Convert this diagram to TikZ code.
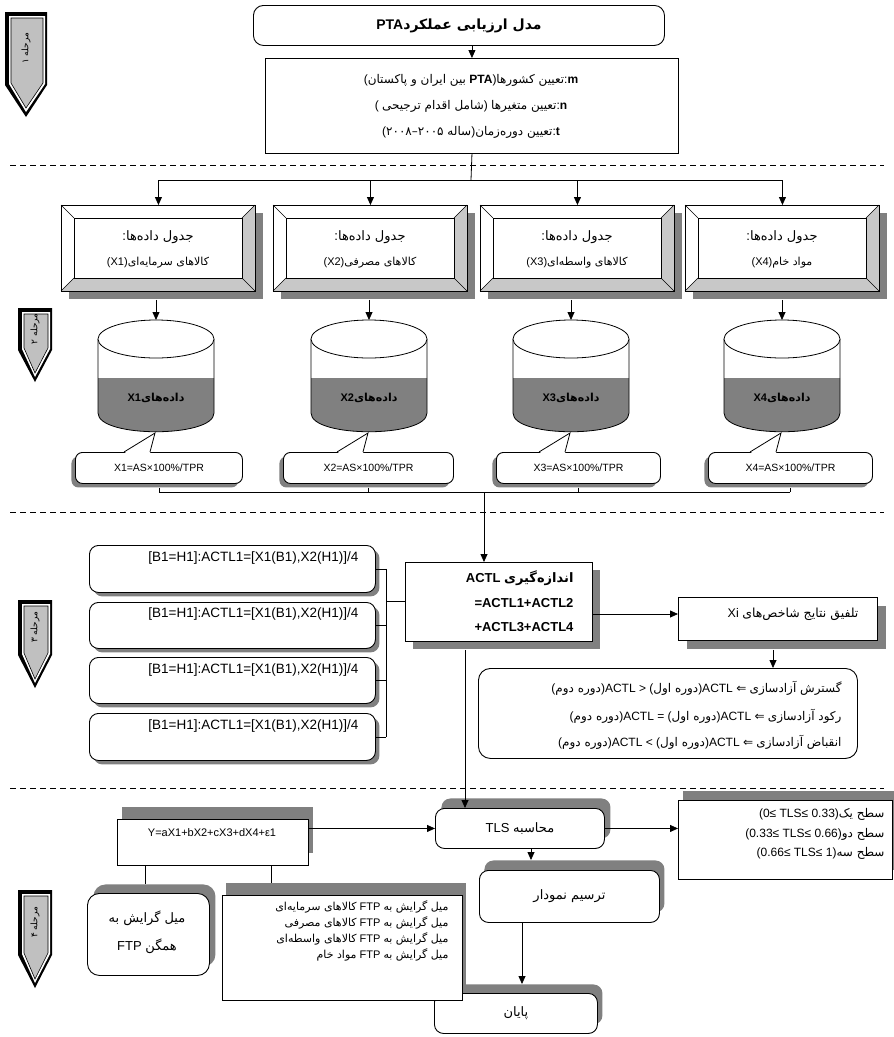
\documentclass[tikz,border=0pt]{standalone}
\usepackage{fontspec}
\setmainfont{Liberation Sans}
\newfontfamily\fa[Script=Arabic]{DejaVu Sans}
\TeXXeTstate=1
\usetikzlibrary{arrows.meta,calc,shadows}
\definecolor{shd}{HTML}{808080}
\definecolor{mk}{HTML}{C0C0C0}
\definecolor{bev}{HTML}{C8C8C8}
\newcommand\fs[1]{\fontsize{#1}{#1}\selectfont}
\newcommand\rtl[1]{{\fa\beginR #1\endR}}

\newcommand\stagemark[7]{% l t r s b text name
  \pgfmathsetmacro\mx{(#1+#3)/2}
  \fill[black] (#1,#2) -- (#3,#2) -- (#3,#4) -- (\mx,#5) -- (#1,#4) -- cycle;
  \fill[white] (#1+4,#2+4) -- (#3-2,#2+4) -- (#3-2,#4-1) -- (\mx,#5-5) -- (#1+4,#4-1) -- cycle;
  \filldraw[fill=mk,draw=black,line width=0.6pt] (#1+6,#2+6) -- (#3-4,#2+6) -- (#3-4,#4-2) -- (\mx,#5-9) -- (#1+6,#4-2) -- cycle;
  \node[rotate=90,font=\fs{9}\fa] (#7) at (\mx,{(#2+#4)/2}) {#6};
}

\newcommand\datatable[3]{% name, left x, second line
  \node[sq,shBR=8pt,minimum width=194pt,minimum height=86pt] (#1) at (#2,205) {};
  \fill[bev] (#2+194,205) -- (#2+194,291) -- (#2+181,278) -- (#2+181,218) -- cycle;
  \fill[bev] (#2,291) -- (#2+194,291) -- (#2+181,278) -- (#2+13,278) -- cycle;
  \draw[line width=0.7pt] (#2+13,218) rectangle (#2+181,278);
  \draw[line width=0.6pt] (#2,205) -- (#2+13,218) (#2+194,205) -- (#2+181,218)
        (#2,291) -- (#2+13,278) (#2+194,291) -- (#2+181,278);
  \draw[line width=0.9pt] (#1.north west) rectangle (#1.south east);
  \node[font=\fs{13}] (#1a) at (#2+97,237) {:\rtl{جدول داده‌ها}};
  \node[font=\fs{11}] (#1b) at (#2+97,263) {#3};
}

\newcommand\cyl[3]{% name, cx, label
  \fill[white] (#2-58,339) -- (#2-58,413) .. controls (#2-58,438) and (#2+58,438) .. (#2+58,413) -- (#2+58,339) -- cycle;
  \fill[shd] (#2-58,378) -- (#2-58,413) .. controls (#2-58,438) and (#2+58,438) .. (#2+58,413) -- (#2+58,378) -- cycle;
  \draw[line width=0.8pt] (#2-58,339) -- (#2-58,413) .. controls (#2-58,438) and (#2+58,438) .. (#2+58,413) -- (#2+58,339);
  \draw[line width=0.8pt,fill=white] (#2,339) ellipse [x radius=58,y radius=19];
  \coordinate (#1top) at (#2,320);
  \coordinate (#1bot) at (#2,432);
  \node[font=\fs{11}\bfseries] (#1) at (#2,398) {#3};
}

\newcommand\callout[5]{% name, left, width, text, cylinder cx
  \node[rnd,rounded corners=7pt,drop shadow={shadow xshift=-4pt,shadow yshift=-4pt,opacity=1,fill=shd},
        minimum width=#3,minimum height=31pt] (#1) at (#2,452) {};
  \fill[white] (#5-32,453.4) -- (#5-1,433) -- (#5-6,453.4) -- cycle;
  \draw[line width=0.8pt] (#5-32,452) -- (#5-1,433) -- (#5-6,452);
  \node[font=\fs{10.5}] (#1t) at (#1.center) {#4};
}

\begin{document}
\begin{tikzpicture}[x=1pt,y=-1pt,
  ln/.style={draw=black,line width=0.8pt},
  arr/.style={ln,-{Triangle[width=7pt,length=8pt]}},
  sq/.style={draw=black,line width=0.9pt,fill=white,inner sep=0pt,anchor=north west},
  rnd/.style={sq,rounded corners=9pt},
  shBR/.style={drop shadow={shadow xshift=#1,shadow yshift=-#1,opacity=1,fill=shd}},
  shUR/.style 2 args={drop shadow={shadow xshift=#1,shadow yshift=#2,opacity=1,fill=shd}},
  sep/.style={draw=black,line width=0.8pt,dash pattern=on 6pt off 4pt}]
\useasboundingbox (0,0) rectangle (894,1037);
\fill[white] (0,0) rectangle (894,1037);

% separators
\draw[sep] (10,165) -- (884,165);
\draw[sep] (10,512) -- (884,512);
\draw[sep] (10,788) -- (884,788);

% stage markers
\stagemark{5}{12}{47}{85}{117}{\beginR مرحله ۱\endR}{m1}
\stagemark{18}{308}{52}{350}{382}{\beginR مرحله ۲\endR}{m2}
\stagemark{18}{600}{52}{655}{688}{\beginR مرحله ۳\endR}{m3}
\stagemark{18}{890}{52}{955}{988}{\beginR مرحله ۴\endR}{m4}

% ---------- stage 1
\node[rnd,rounded corners=10pt,minimum width=411pt,minimum height=40pt] (title) at (253,5) {};
\node[font=\fs{14}\bfseries] (titlet) at (title.center) {PTA\rtl{مدل ارزیابی عملکرد}};
\node[sq,minimum width=413pt,minimum height=95pt] (box2) at (265,58) {};
\node[font=\fs{12}] (l1) at (471,80) {(\rtl{بین ایران و پاکستان} \textbf{PTA})\rtl{تعیین کشورها}:\textbf{m}};
\node[font=\fs{12}] (l2) at (471,106) {( \rtl{شامل اقدام ترجیحی}) \rtl{تعیین متغیرها}:\textbf{n}};
\node[font=\fs{12}] (l3) at (471,132) {(\rtl{ساله ۲۰۰۵–۲۰۰۸})\rtl{تعیین دوره‌زمان}:\textbf{t}};
\draw[arr] (title.south -| box2.north) -- (box2.north);

% ---------- stage 2
\datatable{t1}{61}{(X1)\rtl{کالاهای سرمایه‌ای}}
\datatable{t2}{273}{(X2)\rtl{کالاهای مصرفی}}
\datatable{t3}{480}{(X3)\rtl{کالاهای واسطه‌ای}}
\datatable{t4}{685}{(X4)\rtl{مواد خام}}
\coordinate (split) at (471,180);
\draw[ln] (box2.south) -- (split);
\draw[ln] (t1.north |- split) -- (t4.north |- split);
\foreach \t in {t1,t2,t3,t4} \draw[arr] (\t.north |- split) -- (\t.north);

\cyl{c1}{156}{X1\rtl{داده‌های}}
\cyl{c2}{369}{X2\rtl{داده‌های}}
\cyl{c3}{571}{X3\rtl{داده‌های}}
\cyl{c4}{782}{X4\rtl{داده‌های}}
\draw[arr] ($(c1top |- t1.south)+(0,8)$) -- (c1top);
\draw[arr] ($(c2top |- t2.south)+(0,8)$) -- (c2top);
\draw[arr] ($(c3top |- t3.south)+(0,8)$) -- (c3top);
\draw[arr] ($(c4top |- t4.south)+(0,8)$) -- (c4top);

\callout{b1}{75}{167pt}{X1=AS×100\%/TPR}{156}
\callout{b2}{283}{170pt}{X2=AS×100\%/TPR}{369}
\callout{b3}{496}{164pt}{X3=AS×100\%/TPR}{571}
\callout{b4}{708}{164pt}{X4=AS×100\%/TPR}{782}
\coordinate (coll) at (484,492);
\foreach \b in {b1,b2,b3,b4} \draw[ln] ($(\b.south)+(0,4)$) -- (\b.south |- coll);
\draw[ln] (b1.south |- coll) -- (b4.south |- coll);

% ---------- stage 3
\coordinate (dn) at (465,0);
\node[sq,shBR=8pt,minimum width=187pt,minimum height=79pt] (actl) at (405,562) {};
\node[font=\fs{13}\bfseries,anchor=east] (actl1) at (577,578) {ACTL \rtl{اندازه‌گیری}};
\node[font=\fs{13}\bfseries,anchor=east] (actl2) at (577,603) {=ACTL1+ACTL2};
\node[font=\fs{13}\bfseries,anchor=east] (actl3) at (577,627) {+ACTL3+ACTL4};
\draw[arr] (coll) -- (actl.north -| coll);

\node[rnd,shBR=4pt,minimum width=286pt,minimum height=47pt] (s1) at (89,545) {};
\node[rnd,shBR=4pt,minimum width=286pt,minimum height=46pt] (s2) at (89,602) {};
\node[rnd,shBR=4pt,minimum width=286pt,minimum height=46pt] (s3) at (89,657) {};
\node[rnd,shBR=4pt,minimum width=286pt,minimum height=47pt] (s4) at (89,713) {};
\foreach \s/\yy in {s1/558,s2/614,s3/670,s4/726}
  \node[font=\fs{13.5},anchor=east] (\s t) at (362,\yy) {[B1=H1]:ACTL1=[X1(B1),X2(H1)]/4};
\coordinate (brk) at (386,601);
\foreach \s in {s1,s2,s3,s4} \draw[ln] (\s.east) -- (\s.east -| brk);
\draw[ln] (s1.east -| brk) -- (s4.east -| brk);
\draw[ln] (brk) -- (actl.west |- brk);

\node[sq,shBR=9pt,minimum width=199pt,minimum height=43pt] (res) at (678,597) {};
\node[font=\fs{12.5},anchor=east] (rest) at (862,614) {Xi \rtl{تلفیق نتایج شاخص‌های}};
\draw[arr] (actl.east |- rest) -- (res.west |- rest);

\node[rnd,rounded corners=12pt,minimum width=379pt,minimum height=90pt] (list) at (478,668) {};
\node[font=\fs{12},anchor=east] (li1) at (845,688) {(\rtl{دوره دوم})ACTL > (\rtl{دوره اول})ACTL {\fa ⇐} \rtl{گسترش آزادسازی}};
\node[font=\fs{12},anchor=east] (li2) at (845,716) {(\rtl{دوره دوم})ACTL = (\rtl{دوره اول})ACTL {\fa ⇐} \rtl{رکود آزادسازی}};
\node[font=\fs{12},anchor=east] (li3) at (845,742) {(\rtl{دوره دوم})ACTL < (\rtl{دوره اول})ACTL {\fa ⇐} \rtl{انقباض آزادسازی}};
\coordinate (rx) at (773,0);
\draw[arr] ($(res.south -| rx)+(0,9)$) -- (list.north -| rx);

% ---------- stage 4
\node[sq,shUR={5pt}{12pt},minimum width=191pt,minimum height=46pt] (ybox) at (117,819) {};
\node[font=\fs{11}] (yt) at (212,833) {Y=aX1+bX2+cX3+dX4+ε1};
\node[rnd,shUR={6pt}{10pt},minimum width=169pt,minimum height=40pt] (tls) at (435,808) {};
\node[font=\fs{13}] (tlst) at (tls.center) {TLS \rtl{محاسبه}};
\node[sq,shUR={5pt}{9pt},minimum width=214pt,minimum height=79pt] (lev) at (678,800) {};
\node[font=\fs{12},anchor=east] (lev1) at (888,814) {(0≤ TLS≤ 0.33)\rtl{سطح یک}};
\node[font=\fs{12},anchor=east] (lev2) at (888,834) {(0.33≤ TLS≤ 0.66)\rtl{سطح دو}};
\node[font=\fs{12},anchor=east] (lev3) at (888,853) {(0.66≤ TLS≤ 1)\rtl{سطح سه}};
\node[rnd,shUR={5pt}{10pt},minimum width=180pt,minimum height=52pt] (chart) at (479,870) {};
\node[font=\fs{13}] (chartt) at (chart.center) {\rtl{ترسیم نمودار}};
\node[rnd,shUR={5pt}{9pt},minimum width=163pt,minimum height=40pt] (fin) at (434,993) {};
\node[font=\fs{13}] (fint) at (fin.center) {\rtl{پایان}};
\node[rnd,rounded corners=12pt,shUR={6pt}{9pt},minimum width=122pt,minimum height=82pt] (lbox) at (87,893) {};
\node[font=\fs{13}] (lb1) at (147,918) {\rtl{میل گرایش به}};
\node[font=\fs{13}] (lb2) at (147,946) {FTP \rtl{همگن}};
\node[sq,shUR={4pt}{12pt},minimum width=240pt,minimum height=105pt] (mbox) at (222,895) {};
\node[font=\fs{11},anchor=east] (mb1) at (452,907) {\rtl{کالاهای سرمایه‌ای} FTP \rtl{میل گرایش به}};
\node[font=\fs{11},anchor=east] (mb2) at (452,923) {\rtl{کالاهای مصرفی} FTP \rtl{میل گرایش به}};
\node[font=\fs{11},anchor=east] (mb3) at (452,939) {\rtl{کالاهای واسطه‌ای} FTP \rtl{میل گرایش به}};
\node[font=\fs{11},anchor=east] (mb4) at (452,955) {\rtl{مواد خام} FTP \rtl{میل گرایش به}};

\draw[arr] ($(actl.south -| dn)+(0,8)$) -- (tls.north -| dn);
\draw[arr] (ybox.east |- tls.west) -- (tls.west);
\draw[arr] (tls.east) -- (lev.west |- tls.east);
\coordinate (cx1) at (531,0);
\draw[arr] (tls.south -| cx1) -- ($(chart.north -| cx1)+(0,-10)$);
\coordinate (cx2) at (522,0);
\draw[arr] (chart.south -| cx2) -- ($(fin.north -| cx2)+(0,-9)$);
\coordinate (cx3) at (145,0);
\draw[ln] (ybox.south -| cx3) -- ($(lbox.north -| cx3)+(0,-9)$);
\coordinate (cx4) at (271,0);
\draw[ln] (ybox.south -| cx4) -- ($(mbox.north -| cx4)+(0,-12)$);
\end{tikzpicture}
\end{document}
